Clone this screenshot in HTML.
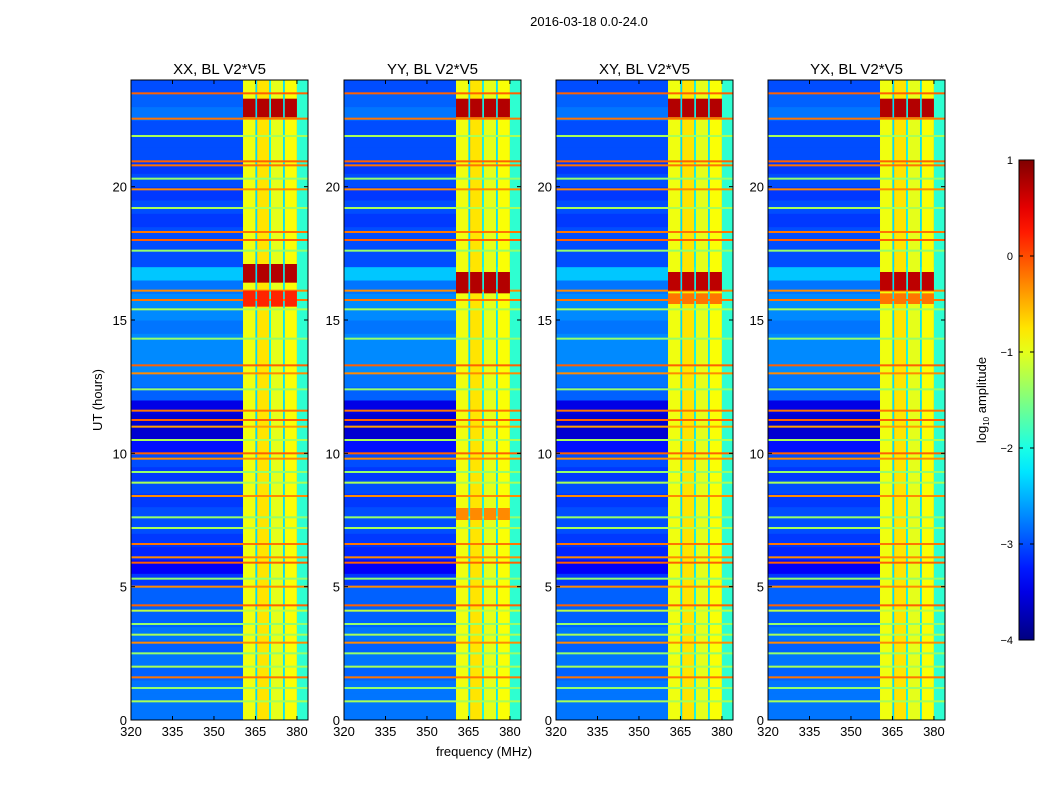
<!DOCTYPE html>
<html><head><meta charset="utf-8"><style>
body{margin:0;background:#fff;font-family:"Liberation Sans",sans-serif;}
svg text{font-family:"Liberation Sans",sans-serif;fill:#000;}
</style></head><body>
<svg id="fig" width="1050" height="800">
<text x="589" y="26" font-size="13" text-anchor="middle">2016-03-18 0.0-24.0</text>
<text x="484" y="756" font-size="13" text-anchor="middle">frequency (MHz)</text>
<text transform="translate(102,400) rotate(-90)" font-size="13" text-anchor="middle">UT (hours)</text>
</svg>
<script>
// ---- data ----
const panelTitles = ["XX, BL V2*V5","YY, BL V2*V5","XY, BL V2*V5","YX, BL V2*V5"];
const xTicks = [320,335,350,365,380];
const yTicks = [0,5,10,15,20];
const cbTicks = [1,0,-1,-2,-3,-4];
// background level per 0.5 h bin (log10 amplitude), hour 0..24
const bgRows = [-2.8,-2.8,-2.8,-2.9,-2.8,-2.9,-2.8,-2.9,-2.9,-2.9,-3.1,-3.4,-3.2,-3.1,-3.0,-3.0,-3.1,-3.0,-3.1,-3.0,-3.3,-3.6,-3.6,-3.5,-2.9,-2.8,-2.7,-2.7,-2.7,-2.8,-2.7,-2.7,-2.8,-2.4,-3.0,-3.0,-3.0,-3.1,-3.0,-3.1,-3.0,-3.1,-3.0,-3.0,-3.0,-2.8,-2.9,-3.0];
// strong frequency band segments [fStart,fEnd,value]
const bandStart = [360.5,365.0,365.6,370.0,370.6,375.0,375.6,380.0];
const bandEnd   = [365.0,365.6,370.0,370.6,375.0,375.6,380.0,384.0];
const bandVal   = [-0.95,-2.3,-0.75,-2.1,-1.0,-2.2,-0.9,-1.9];
// horizontal interference lines
const lineHours = [23.5,22.55,21.9,20.95,20.8,20.3,19.9,19.2,18.3,18.0,17.6,16.1,15.75,15.4,14.3,13.3,13.0,12.4,11.6,11.25,11.0,10.5,10.0,9.8,9.3,8.9,8.4,7.6,7.2,6.6,6.1,5.9,5.3,5.0,4.3,4.1,3.6,3.2,2.9,2.5,2.0,1.6,1.2,0.7];
const lineVals  = [-0.1,-0.2,-1.3,-0.1,-0.2,-1.4,-0.3,-1.3,-0.2,-0.1,-1.4,-0.3,-0.2,-1.3,-1.4,-0.1,-0.3,-1.4,-0.2,-0.1,-0.4,-1.3,-0.1,-0.3,-1.4,-1.3,-0.3,-1.4,-1.3,-0.2,-0.3,-0.1,-1.4,-0.3,-0.1,-1.2,-1.4,-1.3,-0.3,-1.4,-1.3,-0.2,-1.4,-1.3];
// bursts per panel
const burstStart = [[22.6,16.4,15.5],[22.6,16.0,7.5],[22.6,16.1,15.6],[22.6,16.1,15.6]];
const burstEnd   = [[23.3,17.1,16.1],[23.3,16.8,7.95],[23.3,16.8,16.0],[23.3,16.8,16.0]];
const burstVal   = [[0.75,0.75,0.2],[0.75,0.75,-0.3],[0.75,0.7,-0.2],[0.75,0.7,-0.2]];

// ---- layout ----
const panelX=[131,344,556,768], PW=177, PT=80, PB=720;
const fMin=320,fMax=384,tMin=0,tMax=24;
const NS="http://www.w3.org/2000/svg", svg=document.getElementById('fig');
function jet(v){let t=(v+4)/5;t=Math.max(0,Math.min(1,t));
 const c=x=>Math.round(255*Math.max(0,Math.min(1,x)));
 return `rgb(${c(1.5-Math.abs(4*t-3))},${c(1.5-Math.abs(4*t-2))},${c(1.5-Math.abs(4*t-1))})`;}
function mk(tag,attrs,parent){const e=document.createElementNS(NS,tag);for(const k in attrs)e.setAttribute(k,attrs[k]);(parent||svg).appendChild(e);return e;}
panelX.forEach((px,p)=>{
 const xs=f=>px+(f-fMin)/(fMax-fMin)*PW;
 const ys=h=>PB-(h-tMin)/(tMax-tMin)*(PB-PT);
 const g=mk('g',{});
 
 
 bgRows.forEach((v,i)=>{const r=mk('rect',{x:px,y:ys((i+1)*0.5),width:PW,height:ys(i*0.5)-ys((i+1)*0.5)+0.5,fill:jet(v)},g);
  });
 bandStart.forEach((f,i)=>{const r=mk('rect',{x:xs(f),y:PT,width:xs(bandEnd[i])-xs(f),height:PB-PT,fill:jet(bandVal[i])},g);
  });
 lineHours.forEach((h,i)=>{const r=mk('rect',{x:px,y:ys(h)-1,width:PW,height:2,fill:jet(lineVals[i])},g);
  });
 burstStart[p].forEach((h,i)=>{bandStart.forEach((f,j)=>{if(bandVal[j]>-1.5&&bandStart[j]<380){
  const r=mk('rect',{x:xs(f),y:ys(burstEnd[p][i]),width:xs(bandEnd[j])-xs(f),height:ys(h)-ys(burstEnd[p][i]),fill:jet(burstVal[p][i])},g);
  }});});
 const fr=mk('rect',{x:px,y:PT,width:PW,height:PB-PT,fill:'none',stroke:'#000','stroke-width':1});
 
 const t=mk('text',{x:px+PW/2,y:74,'font-size':15,'text-anchor':'middle'});t.textContent=panelTitles[p];
 
 xTicks.forEach(v=>{const x=xs(v);mk('line',{x1:x,x2:x,y1:PB,y2:PB-4,stroke:'#000'});mk('line',{x1:x,x2:x,y1:PT,y2:PT+4,stroke:'#000'});
  const l=mk('text',{x:x,y:PB+16,'font-size':13,'text-anchor':'middle'});l.textContent=v;
  });
 yTicks.forEach(v=>{const y=ys(v);mk('line',{x1:px,x2:px+4,y1:y,y2:y,stroke:'#000'});mk('line',{x1:px+PW,x2:px+PW-4,y1:y,y2:y,stroke:'#000'});
  const l=mk('text',{x:px-4,y:y+5,'font-size':13,'text-anchor':'end'});l.textContent=v;
  });
});
// colorbar
const CX=1019,CW=15,CT=160,CB=640;
const defs=mk('defs',{});const lg=mk('linearGradient',{id:'jetg',x1:0,y1:1,x2:0,y2:0},defs);
for(let i=0;i<=20;i++){mk('stop',{offset:i/20,'stop-color':jet(-4+5*i/20)},lg);}
const cb=mk('rect',{x:CX,y:CT,width:CW,height:CB-CT,fill:'url(#jetg)',stroke:'#000'});

cbTicks.forEach(v=>{const y=CB-(v+4)/5*(CB-CT);mk('line',{x1:CX,x2:CX+4,y1:y,y2:y,stroke:'#000'});mk('line',{x1:CX+CW,x2:CX+CW-4,y1:y,y2:y,stroke:'#000'});
 const l=mk('text',{x:1013,y:y+4,'font-size':11,'text-anchor':'end'});l.textContent=v<0?'\u2212'+(-v):v;
 });
const cl=mk('text',{transform:'translate(986,400) rotate(-90)','font-size':13,'text-anchor':'middle'});
cl.innerHTML='log<tspan font-size="8" dy="3">10</tspan><tspan dy="-3"> amplitude</tspan>';

</script>
</body></html>
